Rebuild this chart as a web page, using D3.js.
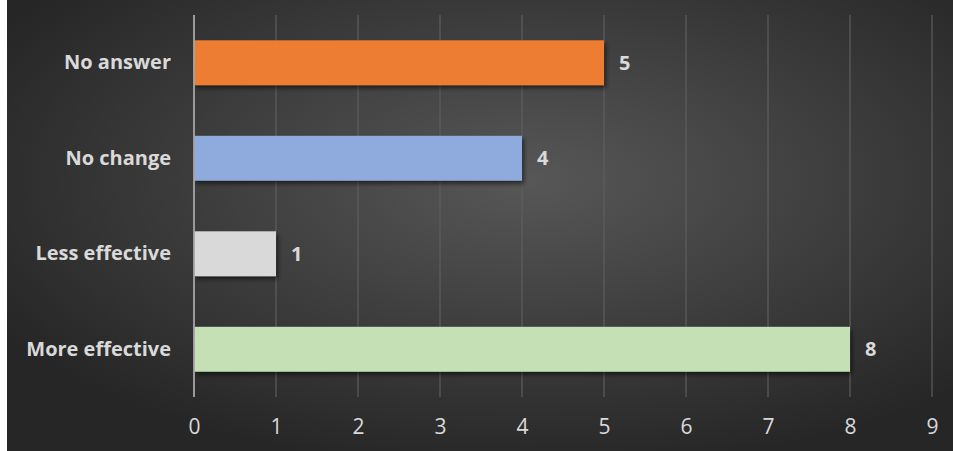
<!DOCTYPE html>
<meta charset="utf-8">
<style>
    body { margin: 0; background: #fff; }
    .tick text { font-family: "Open Sans", sans-serif; }
</style>
<svg width="953" height="451"></svg>
<script src="https://d3js.org/d3.v7.min.js"></script>
<script>

    // categories top to bottom, values and bar colours
    var categories = ["No answer", "No change", "Less effective", "More effective"],
        values = [5, 4, 1, 8],
        colors = ["#ED7D31", "#8FAADC", "#D9D9D9", "#C5E0B4"],
        xTicks = [0, 1, 2, 3, 4, 5, 6, 7, 8, 9];

    var svg = d3.select("svg"),
        margin = { top: 15, right: 21, bottom: 54, left: 194 },
        width = 953 - margin.left - margin.right,
        height = 451 - margin.top - margin.bottom;

    var defs = svg.append("defs");

    // background: dark with a soft lighter centre
    var grad = defs.append("radialGradient")
        .attr("id", "bg")
        .attr("cx", "55%").attr("cy", "40%")
        .attr("r", "65%");
    grad.append("stop").attr("offset", "0%").attr("stop-color", "#575757");
    grad.append("stop").attr("offset", "100%").attr("stop-color", "#262626");

    var shadow = defs.append("filter")
        .attr("id", "shadow")
        .attr("x", "-5%").attr("y", "-20%")
        .attr("width", "115%").attr("height", "160%");
    shadow.append("feDropShadow")
        .attr("dx", 2).attr("dy", 3)
        .attr("stdDeviation", 2)
        .attr("flood-color", "#000")
        .attr("flood-opacity", 0.55);

    svg.append("rect")
        .attr("x", 7).attr("y", 0)
        .attr("width", 946).attr("height", 451)
        .attr("fill", "url(#bg)");

    var g = svg.append("g").attr("transform", "translate(" + margin.left + "," + margin.top + ")");

    var x = d3.scaleLinear()
        .domain([0, 9])
        .range([0, width]);

    var y = d3.scaleBand()
        .domain(categories)
        .range([0, height])
        .paddingInner(0.53)
        .paddingOuter(0.265);

    // vertical gridlines
    g.append("g")
        .selectAll("line")
        .data(xTicks.slice(1))
        .join("line")
        .attr("x1", d => x(d)).attr("x2", d => x(d))
        .attr("y1", 0).attr("y2", height)
        .attr("stroke", "#5e5e5e")
        .attr("stroke-width", 1.2);

    // x axis labels
    var xAxis = g.append("g")
        .attr("transform", "translate(0," + height + ")")
        .attr("font-size", 21)
        .call(d3.axisBottom(x).tickValues(xTicks).tickSize(0).tickPadding(22));
    xAxis.attr("font-size", 21);
    xAxis.select(".domain").remove();
    xAxis.selectAll("text")
        .attr("fill", "#d9d9d9");

    // bars
    g.append("g")
        .selectAll("rect")
        .data(values)
        .join("rect")
        .attr("x", 0)
        .attr("y", (d, i) => y(categories[i]))
        .attr("width", d => x(d))
        .attr("height", y.bandwidth())
        .attr("fill", (d, i) => colors[i])
        .attr("filter", "url(#shadow)");

    // value axis line at zero
    g.append("line")
        .attr("x1", 0).attr("x2", 0)
        .attr("y1", 0).attr("y2", height)
        .attr("stroke", "#a6a6a6")
        .attr("stroke-width", 1.8);

    // category labels
    var yAxis = g.append("g")
        .call(d3.axisLeft(y).tickSize(0).tickPadding(23));
    yAxis.select(".domain").remove();
    yAxis.selectAll("text")
        .attr("fill", "#d9d9d9")
        .style("font-size", "20px")
        .style("font-weight", "bold");

    // value labels
    g.append("g")
        .selectAll("text")
        .data(values)
        .join("text")
        .attr("x", d => x(d) + 15)
        .attr("y", (d, i) => y(categories[i]) + y.bandwidth() / 2)
        .attr("dy", "0.35em")
        .attr("fill", "#d9d9d9")
        .style("font-family", "'Open Sans', sans-serif")
        .style("font-size", "20px")
        .style("font-weight", "bold")
        .text(d => d);

</script>
